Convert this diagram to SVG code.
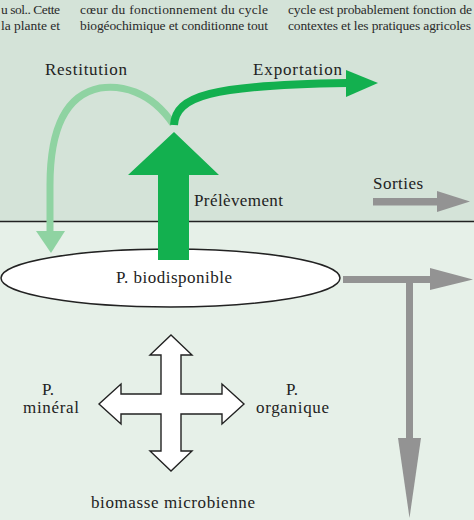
<svg xmlns="http://www.w3.org/2000/svg" width="474" height="520" viewBox="0 0 474 520">
<style>
text{font-family:'Liberation Serif','DejaVu Serif','Times New Roman',serif}
.t{font-size:17px;fill:#222}
.s{font-size:13.5px;fill:#2a2a2a}
.dg{fill:#13b04f}
.gr{fill:#939393}
</style>
<rect x="0" y="0" width="474" height="222" fill="#d4e3d8"/>
<rect x="0" y="222" width="474" height="298" fill="#e6f0e8"/>
<line x1="0" y1="221.5" x2="474" y2="221.5" stroke="#222" stroke-width="1.6"/>
<g id="header-text" font-family="Liberation Serif, DejaVu Serif, serif">
<text class="s" x="1" y="14" textLength="59" lengthAdjust="spacing">u sol.. Cette</text>
<text class="s" x="1" y="30" textLength="59" lengthAdjust="spacing">la plante et</text>
<text class="s" x="80" y="14" textLength="188" lengthAdjust="spacing">cœur du fonctionnement du cycle</text>
<text class="s" x="80" y="30" textLength="188" lengthAdjust="spacing">biogéochimique et conditionne tout</text>
<text class="s" x="288" y="14" textLength="184" lengthAdjust="spacing">cycle est probablement fonction de</text>
<text class="s" x="288" y="30" textLength="183" lengthAdjust="spacing">contextes et les pratiques agricoles</text>
</g>
<g id="node-biodisponible">
<ellipse cx="170.5" cy="278" rx="169.5" ry="29" fill="#fff" stroke="#222" stroke-width="1.5"/>
<text class="t" x="116" y="283" textLength="116" lengthAdjust="spacing" font-family="Liberation Serif, DejaVu Serif, serif">P. biodisponible</text>
</g>
<g id="connectors">
<path d="M173,124 C150,90 120,85 100,88 C65,95 50,130 50,185 L50,233" fill="none" stroke="#8fd3a2" stroke-width="7"/>
<polygon points="36,231 65,231 51,253" fill="#8fd3a2"/>
<path d="M174,125 C176,96 210,85 347,83" fill="none" stroke="#13b04f" stroke-width="8"/>
<polygon class="dg" points="346,70 378,83 346,97"/>
<polygon class="dg" points="158,260 158,175 128,175 174,132 219,175 189,175 189,260"/>
<rect class="gr" x="373" y="198" width="65" height="7.5"/>
<polygon class="gr" points="437,191 470,201.5 437,212"/>
<rect class="gr" x="343" y="276" width="88" height="7"/>
<polygon class="gr" points="430,268 473,279.5 430,290"/>
<rect class="gr" x="406" y="276" width="7" height="164"/>
<polygon class="gr" points="398,438 421,438 409.5,518"/>
</g>
<g id="node-cross">
<polygon points="171,335 192,355 181,355 181,394 222,394 222,384 244,404 222,424 222,414 181,414 181,451 192,451 171,471 150,451 161,451 161,414 121,414 121,424 99,404 121,384 121,394 161,394 161,355 150,355" fill="#fff" stroke="#222" stroke-width="1.4" stroke-linejoin="miter"/>
</g>
<g id="labels" font-family="Liberation Serif, DejaVu Serif, serif">
<text class="t" x="45" y="75" textLength="82" lengthAdjust="spacing">Restitution</text>
<text class="t" x="253" y="75" textLength="89" lengthAdjust="spacing">Exportation</text>
<text class="t" x="194" y="206" textLength="89" lengthAdjust="spacing">Prélèvement</text>
<text class="t" x="373" y="189" textLength="50" lengthAdjust="spacing">Sorties</text>
</g>
<g id="node-mineral" font-family="Liberation Serif, DejaVu Serif, serif">
<text class="t" x="48" y="395" text-anchor="middle">P.</text>
<text class="t" x="23" y="413" textLength="56" lengthAdjust="spacing">minéral</text>
</g>
<g id="node-organique" font-family="Liberation Serif, DejaVu Serif, serif">
<text class="t" x="292" y="395" text-anchor="middle">P.</text>
<text class="t" x="256" y="413" textLength="73" lengthAdjust="spacing">organique</text>
</g>
<g id="node-biomasse" font-family="Liberation Serif, DejaVu Serif, serif">
<text class="t" x="91" y="508" textLength="164" lengthAdjust="spacing">biomasse microbienne</text>
</g>
</svg>
